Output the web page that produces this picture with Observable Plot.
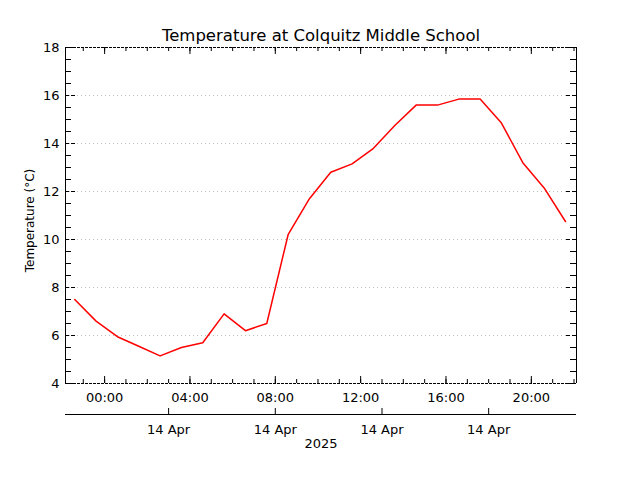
<!DOCTYPE html>
<html><head><meta charset="utf-8">
<script src="https://cdn.jsdelivr.net/npm/d3@7"></script>
<script src="https://cdn.jsdelivr.net/npm/@observablehq/plot@0.6"></script>
<style>body{margin:0;background:#fff;}</style>
</head><body><div id="chart"></div>
<script>
const title = "Temperature at Colquitz Middle School";
const yLabel = "Temperature (°C)";
const yearLabel = "2025";
const times = [
  "2025-04-13T22:36Z","2025-04-13T23:36Z","2025-04-14T00:36Z","2025-04-14T01:36Z",
  "2025-04-14T02:36Z","2025-04-14T03:36Z","2025-04-14T04:36Z","2025-04-14T05:36Z",
  "2025-04-14T06:36Z","2025-04-14T07:36Z","2025-04-14T08:36Z","2025-04-14T09:36Z",
  "2025-04-14T10:36Z","2025-04-14T11:36Z","2025-04-14T12:36Z","2025-04-14T13:36Z",
  "2025-04-14T14:36Z","2025-04-14T15:36Z","2025-04-14T16:36Z","2025-04-14T17:36Z",
  "2025-04-14T18:36Z","2025-04-14T19:36Z","2025-04-14T20:36Z","2025-04-14T21:36Z"
];
const temps = [7.5, 6.6, 5.95, 5.55, 5.15, 5.5, 5.7, 6.9, 6.2, 6.5, 10.2, 11.7,
  12.8, 13.15, 13.8, 14.75, 15.6, 15.6, 15.85, 15.85, 14.85, 13.2, 12.15, 10.75];
const yTicks = [4, 6, 8, 10, 12, 14, 16, 18];
const xTickTimes = ["2025-04-14T00:00Z","2025-04-14T04:00Z","2025-04-14T08:00Z",
  "2025-04-14T12:00Z","2025-04-14T16:00Z","2025-04-14T20:00Z"];
const xTickLabels = ["00:00","04:00","08:00","12:00","16:00","20:00"];
const dateTickTimes = ["2025-04-14T03:00Z","2025-04-14T08:00Z","2025-04-14T13:00Z","2025-04-14T18:00Z"];
const dateTickLabels = ["14 Apr","14 Apr","14 Apr","14 Apr"];
const xDomainStr = ["2025-04-13T22:10Z","2025-04-14T22:07Z"];
const yDomain = [4, 18];

const W = 640, H = 480, mL = 65, mR = 64, mT = 47, mB = 97;
const fw = W - mL - mR, fh = H - mT - mB;
const xd = xDomainStr.map(s => new Date(s));
const data = times.map((t, i) => ({time: new Date(t), temp: temps[i]}));
const xMajor = xTickTimes.map(s => new Date(s));
const xMinor = d3.utcHour.range(xd[0], xd[1]);
const dateTicks = dateTickTimes.map(s => new Date(s));
const yMinor = d3.range(yDomain[0] + 0.5, yDomain[1], 0.5).filter(v => v % 2 !== 0);
const grid = yTicks.filter(v => v > yDomain[0] && v < yDomain[1]);

const chart = Plot.plot({
  width: W, height: H,
  marginLeft: mL, marginRight: mR, marginTop: mT, marginBottom: mB,
  x: {type: "utc", domain: xd, axis: null},
  y: {domain: yDomain, axis: null},
  style: {fontFamily: "DejaVu Sans", fontSize: "13px", background: "white", color: "black"},
  marks: [
    Plot.ruleY(grid, {stroke: "#bdbdbd", strokeDasharray: "1,3"}),
    Plot.line(data, {x: "time", y: "temp", stroke: "red", strokeWidth: 1.5}),
    Plot.ruleX(xd, {stroke: "black"}),
    Plot.ruleY(yDomain, {stroke: "black", strokeDasharray: "3,1"}),
    Plot.ruleX(xMajor, {stroke: "black", insetTop: fh - 7}),
    Plot.ruleX(xMinor, {stroke: "black", insetTop: fh - 4}),
    Plot.ruleX(xMajor, {stroke: "black", insetBottom: fh - 7}),
    Plot.ruleX(xMinor, {stroke: "black", insetBottom: fh - 4}),
    Plot.ruleY(yTicks, {stroke: "black", insetRight: fw - 10, strokeDasharray: "4,2"}),
    Plot.ruleY(yMinor, {stroke: "black", insetRight: fw - 6}),
    Plot.ruleY(yTicks, {stroke: "black", insetLeft: fw - 10, strokeDasharray: "4,2"}),
    Plot.ruleY(yMinor, {stroke: "black", insetLeft: fw - 6}),
    Plot.text(xMajor, {x: d => d, text: (d, i) => xTickLabels[i], frameAnchor: "bottom", lineAnchor: "middle", dy: 14, fill: "black"}),
    Plot.text(yTicks, {y: d => d, text: d => String(d), frameAnchor: "left", lineAnchor: "middle", dx: -6, textAnchor: "end", fill: "black"}),
    Plot.ruleY([yDomain[0]], {stroke: "black", dy: 31}),
    Plot.ruleX(dateTicks, {stroke: "black", insetTop: fh - 6, dy: 31}),
    Plot.text(dateTicks, {x: d => d, text: (d, i) => dateTickLabels[i], frameAnchor: "bottom", lineAnchor: "middle", dy: 46, fill: "black"}),
    Plot.text([yearLabel], {text: d => d, frameAnchor: "bottom", lineAnchor: "middle", dy: 60, fill: "black"}),
    Plot.text([title], {text: d => d, frameAnchor: "top", lineAnchor: "middle", dy: -12, fontSize: 16.5, fill: "black"}),
    Plot.text([yLabel], {text: d => d, frameAnchor: "left", textAnchor: "middle", lineAnchor: "middle", dx: -35, dy: 5, rotate: -90, fontSize: 12, fill: "black"})
  ]
});
document.getElementById("chart").appendChild(chart);
</script>
</body></html>
